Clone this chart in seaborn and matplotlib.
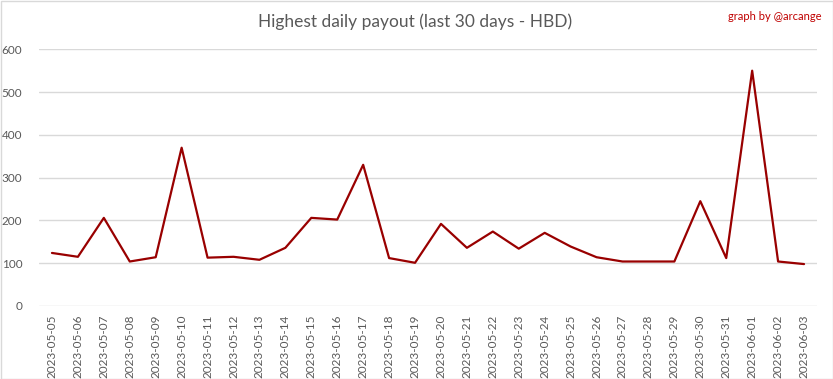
import matplotlib.pyplot as plt
import matplotlib.patches as mpatches
import pandas as pd
import seaborn as sns

dates = pd.date_range('2023-05-05', '2023-06-03').strftime('%Y-%m-%d').tolist()
payout = [124, 115, 206, 104, 114, 370, 113, 115, 108, 136,
          206, 202, 330, 112, 101, 192, 136, 174, 134, 171,
          139, 114, 104, 104, 104, 245, 112, 550, 104, 98]
y_ticks = [0, 100, 200, 300, 400, 500, 600]

sns.set_style('white')
plt.rcParams['font.family'] = ['Lato', 'DejaVu Sans']

frame = pd.DataFrame({'date': dates, 'payout': payout})
frame['pos'] = range(len(frame))

fig = plt.figure(figsize=(8.33, 3.79), dpi=100)
ax = fig.add_axes([39 / 833, 1 - 306 / 379, 778 / 833, (306 - 49.3) / 379])

sns.lineplot(data=frame, x='pos', y='payout', color='#990000', linewidth=1.6, ax=ax, zorder=3)

ax.set_xlim(-0.5, len(dates) - 0.5)
ax.set_ylim(0, 600)
ax.set_yticks(y_ticks)
ax.set_xticks(frame['pos'])
ax.set_xticklabels(dates, rotation=90)
ax.tick_params(axis='both', length=0, labelsize=8.5, colors='#595959', pad=6)
ax.tick_params(axis='y', pad=12)
ax.grid(axis='y', color='#d9d9d9', linewidth=1, zorder=1)
for s in ax.spines.values():
    s.set_visible(False)
ax.set_xlabel(None)
ax.set_ylabel(None)

fig.text(415 / 833, 1 - 22 / 379, 'Highest daily payout (last 30 days - HBD)',
         ha='center', va='center', fontsize=12.5, color='#595959')
fig.text(822 / 833, 1 - 17 / 379, 'graph by @arcange', ha='right', va='center',
         fontsize=8, color='#c00000')

fig.patches.append(mpatches.Rectangle((0.5 / 833, 0.5 / 379), 1 - 1 / 833, 1 - 1 / 379,
                                      transform=fig.transFigure, fill=False,
                                      edgecolor='#d9d9d9', linewidth=1))

fig.savefig('out.png', dpi=100)
